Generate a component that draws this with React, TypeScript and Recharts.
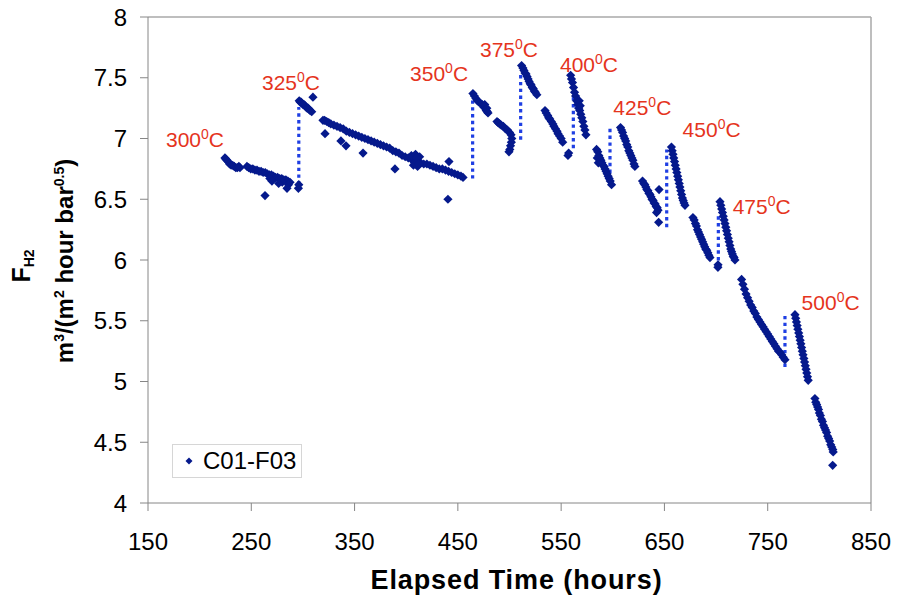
import React from "react";
import {
  ScatterChart,
  Scatter,
  XAxis,
  YAxis,
  ReferenceLine,
  Legend,
} from "recharts";

// C01-F03 permeance readings, [elapsed hours, F_H2]
const run300a: [number, number][] = [
  [224.5, 6.84], [225.5, 6.83], [226.5, 6.82], [227.5, 6.81], [229, 6.79], [230.5, 6.78],
  [232, 6.78], [233.5, 6.77], [235, 6.76], [236.5, 6.76], [238, 6.77], [239, 6.76],
];
const run300b: [number, number][] = [
  [245.8, 6.77], [247.5, 6.76], [249.5, 6.75], [251.5, 6.75], [253.5, 6.74], [255.5, 6.74],
  [257.5, 6.73], [259.5, 6.73], [261.5, 6.72], [263.5, 6.72], [265.5, 6.71], [267.5, 6.7],
  [269.5, 6.7], [271.5, 6.69], [273.5, 6.68], [275.5, 6.68], [277.5, 6.67], [279.5, 6.67],
  [281.5, 6.66], [283.5, 6.66], [285.5, 6.65], [287.5, 6.64], [268, 6.67], [270, 6.65],
  [280, 6.64], [286, 6.62], [263.3, 6.53], [284.6, 6.59], [276.5, 6.63],
];
const run325a: [number, number][] = [
  [295.6, 6.59], [296, 6.62], [296.4, 7.31], [297.3, 7.3], [298.2, 7.3], [299.1, 7.29],
  [300, 7.28], [301, 7.28], [302, 7.27], [303, 7.26], [304, 7.25], [305, 7.25], [306, 7.24],
  [307, 7.23], [308.5, 7.22], [309.7, 7.34],
];
const run325b: [number, number][] = [
  [319.4, 7.15], [321, 7.15], [323, 7.14], [325, 7.13], [327, 7.12], [330, 7.11], [333, 7.1],
  [336, 7.09], [339, 7.08], [342, 7.06], [345, 7.05], [348, 7.04], [351, 7.03], [354, 7.02],
  [357, 7.01], [360, 7.0], [363, 6.99], [366, 6.98], [369, 6.97], [372, 6.96], [375, 6.95],
  [378, 6.94], [381, 6.93], [384, 6.92], [387, 6.9], [390, 6.89], [393, 6.88], [396, 6.86],
  [399, 6.85], [402, 6.84], [405, 6.83], [408, 6.82], [411, 6.81], [414, 6.8], [417, 6.79],
  [420, 6.79], [423, 6.78], [426, 6.77], [429, 6.76], [432, 6.75], [435, 6.75], [438, 6.74],
  [441, 6.73], [444, 6.72], [447, 6.71], [450, 6.7], [453, 6.69], [455, 6.68],
  [405, 6.86], [407, 6.78], [409, 6.87], [411, 6.77], [413, 6.85], [408, 6.8], [410, 6.84],
  [412, 6.79], [321.4, 7.04], [336.8, 6.98], [341.7, 6.94], [358.2, 6.88], [389.1, 6.75],
  [441.4, 6.81], [440.4, 6.5],
];
const run350: [number, number][] = [
  [464.6, 7.37], [466, 7.35], [467.5, 7.33], [469, 7.31], [470.5, 7.3], [472, 7.29],
  [473.5, 7.28], [475, 7.26], [476.5, 7.25], [477.5, 7.23], [478.5, 7.22], [479.2, 7.21],
  [476, 7.28], [478, 7.25], [487.9, 7.14], [489, 7.13], [490.5, 7.12], [492, 7.11],
  [494, 7.1], [496, 7.08], [498, 7.07], [500, 7.05], [501.5, 7.03], [502.2, 7.0],
  [501.8, 6.97], [501, 6.94], [500.3, 6.91], [499.5, 6.89],
];
const run375: [number, number][] = [
  [511.7, 7.6], [513, 7.58], [514, 7.56], [515, 7.54], [516, 7.53], [517, 7.51], [518, 7.49],
  [519, 7.47], [520, 7.45], [521, 7.44], [522, 7.42], [523, 7.41], [524, 7.39], [525, 7.38],
  [526.5, 7.36], [534.4, 7.23], [535.5, 7.21], [537, 7.19], [538, 7.17], [539, 7.16],
  [540.5, 7.14], [542, 7.12], [543, 7.1], [544.5, 7.08], [546, 7.06], [547, 7.04],
  [548.5, 7.02], [550, 7.0], [551.5, 6.97], [556.6, 6.86], [557.3, 6.88],
];
const run400: [number, number][] = [
  [559.2, 7.52], [560, 7.49], [561, 7.46], [562, 7.42], [563, 7.38], [564, 7.35], [565, 7.31],
  [566, 7.28], [567, 7.25], [568, 7.23], [569, 7.2], [570, 7.17], [571, 7.14], [572, 7.1],
  [573, 7.07], [574, 7.03], [567.5, 7.31], [568.5, 7.27], [584.3, 6.91], [585.5, 6.89],
  [586.5, 6.86], [587.5, 6.84], [588.5, 6.82], [589.5, 6.8], [590.5, 6.78], [591.5, 6.77],
  [592.5, 6.75], [593.5, 6.73], [594.5, 6.71], [595.5, 6.69], [596.5, 6.67], [597.5, 6.65],
  [598.8, 6.62], [585, 6.84], [586, 6.8],
];
const run425: [number, number][] = [
  [607.5, 7.09], [608.5, 7.07], [609.5, 7.05], [610.5, 7.02], [611.5, 7.0], [612.5, 6.98],
  [613.5, 6.95], [614.5, 6.93], [615.5, 6.9], [616.5, 6.88], [617.5, 6.86], [618.5, 6.84],
  [619.5, 6.82], [620.5, 6.79], [621.4, 6.77], [628.8, 6.65], [630, 6.63], [631, 6.62],
  [632, 6.6], [633, 6.58], [634, 6.57], [635, 6.55], [636, 6.54], [637, 6.52], [638, 6.5],
  [639, 6.49], [640, 6.47], [641, 6.46], [642, 6.44], [643, 6.43], [643.8, 6.41],
  [644.8, 6.58], [644.4, 6.31], [642.4, 6.39],
];
const run450: [number, number][] = [
  [656.8, 6.93], [657.5, 6.9], [658.3, 6.87], [659, 6.84], [659.8, 6.81], [660.5, 6.78],
  [661.3, 6.75], [662, 6.72], [662.8, 6.69], [663.5, 6.66], [664.3, 6.63], [665, 6.6],
  [665.8, 6.57], [666.6, 6.54], [667.4, 6.51], [668.2, 6.49], [669, 6.47], [669.9, 6.45],
  [677.6, 6.35], [678.8, 6.33], [680, 6.3], [681, 6.28], [682, 6.25], [683, 6.23],
  [684, 6.21], [685, 6.19], [686, 6.17], [687, 6.15], [688, 6.13], [689, 6.11], [690, 6.09],
  [691, 6.08], [692, 6.06], [693, 6.04], [694.1, 6.02],
];
const run475: [number, number][] = [
  [703.8, 6.48], [704.6, 6.45], [705.4, 6.42], [706.2, 6.39], [707, 6.36], [707.8, 6.33],
  [708.6, 6.3], [709.4, 6.27], [710.2, 6.24], [711, 6.21], [711.8, 6.18], [712.6, 6.15],
  [713.4, 6.12], [714.2, 6.09], [715, 6.07], [715.8, 6.05], [716.6, 6.03], [717.4, 6.02],
  [718.3, 6.0], [701.8, 5.94], [701.9, 5.96], [724.7, 5.84], [726, 5.8], [727.5, 5.76],
  [729, 5.72], [730.5, 5.69], [732, 5.66], [733.5, 5.63], [735, 5.61], [736.5, 5.58],
  [738, 5.56], [739.5, 5.53], [741, 5.51], [742.5, 5.49], [744, 5.47], [745.5, 5.45],
  [747, 5.43], [748.5, 5.41], [750, 5.39], [751.5, 5.37], [753, 5.35], [754.5, 5.33],
  [756, 5.31], [757.5, 5.29], [759, 5.27], [760.5, 5.25], [762, 5.24], [763.5, 5.22],
  [765, 5.2], [766.7, 5.18],
];
const run500: [number, number][] = [
  [776.4, 5.55], [777.1, 5.52], [777.8, 5.49], [778.5, 5.46], [779.2, 5.43], [780, 5.4],
  [780.7, 5.37], [781.4, 5.34], [782.1, 5.31], [782.8, 5.28], [783.5, 5.25], [784.2, 5.22],
  [785, 5.19], [785.7, 5.16], [786.4, 5.13], [787.1, 5.1], [787.8, 5.07], [788.5, 5.04],
  [789.2, 5.01], [795.7, 4.86], [796.5, 4.83], [797.4, 4.81], [798.3, 4.79], [799.2, 4.77],
  [800, 4.74], [801, 4.72], [802, 4.69], [803, 4.67], [804, 4.64], [805, 4.62], [806, 4.6],
  [807, 4.58], [808, 4.55], [809, 4.53], [810, 4.51], [811, 4.48], [812, 4.46], [813, 4.44],
  [813.4, 4.42], [812.9, 4.31],
];

// temperature steps: time of the change and the jump it made
const stepHours = [296, 464.3, 510.8, 561.8, 597.3, 652.2, 702.2, 766.7];
const stepLow = [6.62, 6.67, 6.99, 6.92, 6.66, 6.27, 5.94, 5.12];
const stepHigh = [7.26, 7.33, 7.55, 7.48, 7.08, 6.91, 6.37, 5.55];

// temperature labels
const tempNames = ["300", "325", "350", "375", "400", "425", "450", "475", "500"];
const tempHours = [167.4, 260.4, 403.7, 471.4, 548.9, 600.5, 667.6, 716.1, 782.8];
const tempValues = [6.93, 7.4, 7.47, 7.67, 7.55, 7.19, 7.01, 6.38, 5.59];

const xTicks = [150, 250, 350, 450, 550, 650, 750, 850];
const yTicks = [4, 4.5, 5, 5.5, 6, 6.5, 7, 7.5, 8];

const FONT = "'Liberation Sans', Arial, sans-serif";
const NAVY = "#05198c";
const DOTS = "#1f3fe3";
const RED = "#e5341d";

const points = [
  ...run300a, ...run300b, ...run325a, ...run325b, ...run350, ...run375,
  ...run400, ...run425, ...run450, ...run475, ...run500,
].map(([x, y]) => ({ x, y }));

const labelPoints = tempNames.map((t, i) => ({ x: tempHours[i], y: tempValues[i], t }));

const Diamond = (props: any) => {
  const { cx, cy } = props;
  const r = 4.6;
  return (
    <path
      d={`M${cx},${cy - r}L${cx + r},${cy}L${cx},${cy + r}L${cx - r},${cy}Z`}
      fill={NAVY}
    />
  );
};

const TempLabel = (props: any) => {
  const { cx, cy, payload } = props;
  return (
    <text x={cx} y={cy} fill={RED} fontSize={21} fontFamily={FONT}>
      {payload.t}
      <tspan fontSize={14} dy={-8}>0</tspan>
      <tspan dy={8}>C</tspan>
    </text>
  );
};

const XTitle = (props: any) => {
  const vb = props.viewBox || { x: 148, y: 503, width: 723 };
  return (
    <text
      x={vb.x + vb.width / 2 + 7}
      y={vb.y + 86}
      textAnchor="middle"
      fontSize={27}
      fontWeight="bold"
      letterSpacing={0.9}
      fontFamily={FONT}
      fill="#000"
    >
      Elapsed Time (hours)
    </text>
  );
};

const YTitle = (props: any) => {
  const vb = props.viewBox || { x: 0, y: 17, height: 486 };
  const cy1 = vb.y + vb.height / 2 + 6;
  const cy2 = vb.y + vb.height / 2 + 1;
  return (
    <g fontFamily={FONT} fontWeight="bold" fill="#000">
      <text x={30} y={cy1} transform={`rotate(-90 30 ${cy1})`} textAnchor="middle" fontSize={25}>
        F<tspan fontSize={14} dy={4}>H2</tspan>
      </text>
      <text x={73} y={cy2} transform={`rotate(-90 73 ${cy2})`} textAnchor="middle" fontSize={24}>
        m<tspan fontSize={14} dy={-9}>3</tspan>
        <tspan dy={9}>/(m</tspan>
        <tspan fontSize={14} dy={-9}>2</tspan>
        <tspan dy={9}> hour bar</tspan>
        <tspan fontSize={14} dy={-9}>0.5</tspan>
        <tspan dy={9}>)</tspan>
      </text>
    </g>
  );
};

const LegendBox = () => (
  <div
    style={{
      boxSizing: "border-box",
      width: 130,
      height: 34,
      border: "1px solid #d6d6d6",
      background: "#fff",
      display: "flex",
      alignItems: "center",
      fontFamily: FONT,
      fontSize: 24,
      color: "#000",
    }}
  >
    <svg width={30} height={20} style={{ display: "block" }}>
      <path d="M16,6.5L19.5,10L16,13.5L12.5,10Z" fill={NAVY} />
    </svg>
    <span>C01-F03</span>
  </div>
);

export default function App() {
  return (
    <div style={{ position: "absolute", left: 0, top: 0, width: 898, height: 602, background: "#fff" }}>
      <ScatterChart width={898} height={602} margin={{ top: 17, right: 27, bottom: 0, left: 0 }}>
        <XAxis
          type="number"
          dataKey="x"
          domain={[150, 850]}
          ticks={xTicks}
          allowDataOverflow
          height={99}
          tickSize={8}
          tickMargin={22}
          stroke="#868686"
          tick={{ fontSize: 24, fill: "#000", fontFamily: FONT }}
          label={(p: any) => <XTitle {...p} />}
        />
        <YAxis
          type="number"
          dataKey="y"
          domain={[4, 8]}
          ticks={yTicks}
          allowDataOverflow
          width={148}
          tickSize={8}
          tickMargin={13}
          stroke="#868686"
          tick={{ fontSize: 24, fill: "#000", fontFamily: FONT }}
          label={(p: any) => <YTitle {...p} />}
        />
        <ReferenceLine y={8} stroke="#a8a8a8" strokeWidth={1.5} />
        <ReferenceLine x={850} stroke="#a8a8a8" strokeWidth={1.5} />
        {stepHours.map((h, i) => (
          <ReferenceLine
            key={`step-${i}`}
            segment={[{ x: h, y: stepLow[i] }, { x: h, y: stepHigh[i] }]}
            stroke={DOTS}
            strokeWidth={3.2}
            strokeDasharray="3.4 3.4"
          />
        ))}
        <Scatter
          name="C01-F03"
          data={points}
          shape={Diamond}
          fill={NAVY}
          isAnimationActive={false}
        />
        <Scatter
          name="labels"
          data={labelPoints}
          shape={TempLabel}
          legendType="none"
          isAnimationActive={false}
        />
        <Legend
          layout="horizontal"
          verticalAlign="middle"
          align="center"
          wrapperStyle={{ left: 172, top: 444, width: 130, height: 34 }}
          content={() => <LegendBox />}
        />
      </ScatterChart>
    </div>
  );
}
